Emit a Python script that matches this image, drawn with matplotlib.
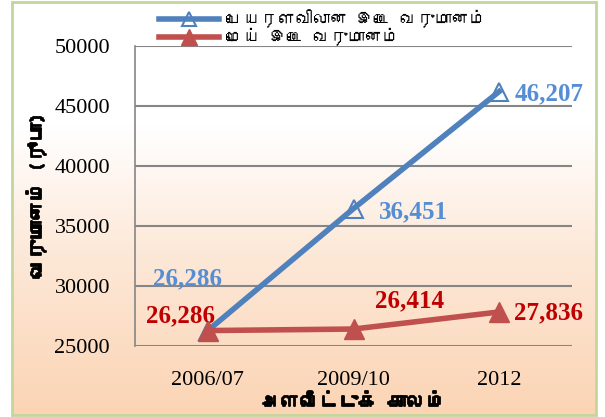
import numpy as np
import matplotlib
matplotlib.use('Agg')
import matplotlib.pyplot as plt
import matplotlib.patheffects as pe
from matplotlib import font_manager
from matplotlib.ft2font import FT2Font
from matplotlib.colors import LinearSegmentedColormap
from matplotlib.patches import Rectangle

# data
periods = ['2006/07', '2009/10', '2012']
nominal_income = [26286, 36451, 46207]
real_income = [26286, 26414, 27836]
nominal_name = 'பெயரளவிலான இடை வருமானம்'
real_name = 'மெய் இடை வருமானம்'
x_title = 'அளவீட்டுக் காலம்'
y_title = 'வருமானம் (ரூபா)'
y_ticks = [25000, 30000, 35000, 40000, 45000, 50000]


# find a font with Tamil glyphs
def find_tamil_font():
    for f in font_manager.fontManager.ttflist:
        try:
            cmap = FT2Font(f.fname).get_charmap()
        except Exception:
            continue
        if ord('ப') in cmap and ord('ம') in cmap:
            return f.name
    return 'DejaVu Sans'


tamil = find_tamil_font()
serif = 'Liberation Serif'
# fake bold for the tamil titles
bold = [pe.withStroke(linewidth=1.3, foreground='black')]

fig = plt.figure(figsize=(6.05, 4.17), dpi=100)
W, H = 605, 417

# background gradient + border
bg = fig.add_axes([0, 0, 1, 1], zorder=0)
bg.set_xlim(0, W)
bg.set_ylim(H, 0)
bg.axis('off')
cmap = LinearSegmentedColormap.from_list('bg', [(0, '#ffffff'), (0.3, '#ffffff'), (0.6, '#fde9d9'), (1, '#fbd4b4')])
grad = np.linspace(0, 1, 256).reshape(-1, 1)
bg.imshow(grad, cmap=cmap, extent=(12, 596, 415, 2), aspect='auto')
bg.add_patch(Rectangle((12, 2), 584, 413, facecolor='none', edgecolor='#c3d69b', linewidth=2))

ax = fig.add_axes([135 / W, 1 - 346 / H, 437 / W, 300 / H], zorder=1)
ax.patch.set_alpha(0)
x = np.arange(len(periods))

ax.plot(x, nominal_income, color='#4f81bd', linewidth=4, marker='^', markersize=13,
        markerfacecolor='none', markeredgecolor='#4f81bd', markeredgewidth=1.5,
        label=nominal_name, zorder=3)
ax.plot(x, real_income, color='#c0504d', linewidth=4, marker='^', markersize=15,
        markerfacecolor='#c0504d', markeredgecolor='#c0504d', label=real_name, zorder=4)

ax.set_xlim(-0.5, 2.5)
ax.set_ylim(25000, 50000)
ax.set_yticks(y_ticks)
ax.set_xticks(x)
ax.set_xticklabels(periods, fontfamily=serif, fontsize=16)
ax.set_yticklabels([str(v) for v in y_ticks], fontfamily=serif, fontsize=16)
ax.tick_params(axis='x', length=0, pad=18)
ax.tick_params(axis='y', length=0, pad=18)
ax.grid(axis='y', color='#868686', linewidth=1.5)
ax.set_axisbelow(True)
for s in ['top', 'right', 'bottom']:
    ax.spines[s].set_visible(False)
ax.spines['left'].set_color('#868686')
ax.spines['left'].set_linewidth(1.2)

# data labels
blue_lbl = '#558ed5'
red_lbl = '#c00000'
lbl = dict(fontfamily=serif, fontsize=18, fontweight='bold', textcoords='offset pixels')
ax.annotate('{:,}'.format(nominal_income[0]), (0, nominal_income[0]), xytext=(-20, 52),
            ha='center', va='center', color=blue_lbl, **lbl)
ax.annotate('{:,}'.format(nominal_income[1]), (1, nominal_income[1]), xytext=(25, -3),
            ha='left', va='center', color=blue_lbl, **lbl)
ax.annotate('{:,}'.format(nominal_income[2]), (2, nominal_income[2]), xytext=(15, -2),
            ha='left', va='center', color=blue_lbl, **lbl)
ax.annotate('{:,}'.format(real_income[0]), (0, real_income[0]), xytext=(-27, 15),
            ha='center', va='center', color=red_lbl, **lbl)
ax.annotate('{:,}'.format(real_income[1]), (1, real_income[1]), xytext=(56, 28),
            ha='center', va='center', color=red_lbl, **lbl)
ax.annotate('{:,}'.format(real_income[2]), (2, real_income[2]), xytext=(15, -1),
            ha='left', va='center', color=red_lbl, **lbl)

xl = ax.set_xlabel(x_title, fontfamily=tamil, fontsize=14, fontweight='bold', labelpad=2)
yl = ax.set_ylabel(y_title, fontfamily=tamil, fontsize=14, fontweight='bold', labelpad=6)
xl.set_path_effects(bold)
yl.set_path_effects(bold)

leg = fig.legend(loc='upper left', bbox_to_anchor=(150 / W, 1 - 1 / H), frameon=False,
                 prop={'family': tamil, 'size': 12.5}, handlelength=3.5, markerscale=0.75,
                 labelspacing=0.0, borderpad=0, handletextpad=0.4)

fig.savefig('out.png', dpi=100)
